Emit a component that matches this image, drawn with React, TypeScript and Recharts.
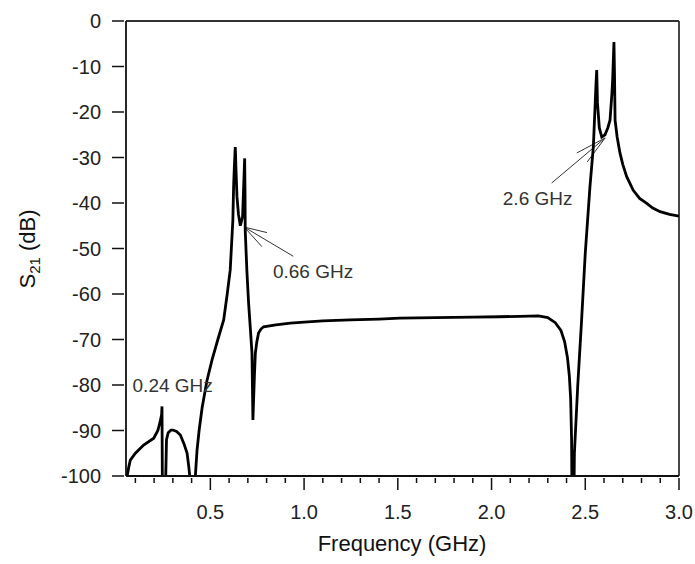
import { LineChart, Line, XAxis, YAxis, ReferenceLine, ReferenceDot } from 'recharts'

// frequency (GHz) and transmission S21 (dB)
const freq = [
  0.056, 0.065, 0.073, 0.1, 0.144, 0.198, 0.22, 0.233, 0.24, 0.242, 0.245, 0.255, 0.262, 0.266,
  0.275, 0.29, 0.3, 0.32, 0.34, 0.36, 0.376, 0.385, 0.39, 0.4, 0.415, 0.42, 0.429, 0.44, 0.456,
  0.482, 0.509, 0.54, 0.571, 0.59, 0.606, 0.62, 0.624, 0.628, 0.633, 0.637, 0.642, 0.65, 0.66,
  0.672, 0.678, 0.683, 0.685, 0.686, 0.695, 0.704, 0.714, 0.722, 0.727, 0.73, 0.735, 0.74,
  0.748, 0.757, 0.77, 0.784, 0.85, 0.926, 1.0, 1.1, 1.246, 1.4, 1.51, 1.7, 1.9, 2.04, 2.15,
  2.25, 2.3, 2.34, 2.37, 2.39, 2.405, 2.415, 2.422, 2.427, 2.43, 2.438, 2.442, 2.46, 2.48, 2.5,
  2.525, 2.543, 2.552, 2.557, 2.561, 2.565, 2.575, 2.588, 2.605, 2.62, 2.632, 2.642, 2.646,
  2.653, 2.656, 2.659, 2.67, 2.685, 2.7, 2.721, 2.756, 2.79, 2.828, 2.86, 2.899, 2.95, 3.0,
]
const s21 = [
  -100, -98, -96.5, -95, -93.2, -91.7, -90, -87.9, -86.5, -84.7, -110, -110, -100, -92,
  -90.5, -89.9, -89.9, -90.2, -91, -93, -95, -98, -100, -108, -108, -100, -94.3, -90, -85,
  -79, -74.5, -70, -65.7, -60, -54.7, -43.8, -36.4, -32, -27.7, -33, -38.6, -42.5, -45,
  -43, -36, -30.2, -38, -46, -55, -62, -68, -73, -87.7, -84, -78, -73,
  -70.5, -68.6, -67.7, -67.2, -66.8, -66.4, -66.2, -65.9, -65.7, -65.5, -65.3, -65.2, -65.1, -65.0, -64.9,
  -64.8, -65.2, -66.3, -68, -70.5, -74, -78, -83, -92, -110, -110, -95, -80, -66, -51,
  -36.4, -27.7, -19, -14, -10.8, -18, -23.5, -25.5, -25.0, -23.5, -21.8, -16, -13,
  -4.6, -12, -21.8, -25.5, -29, -31.5, -34.2, -37.2, -39, -40.1, -41.1, -41.9, -42.5, -42.9,
]

const xTicks = [
  0.1, 0.2, 0.3, 0.4, 0.5, 0.6, 0.7, 0.8, 0.9, 1.0, 1.1, 1.2, 1.3, 1.4, 1.5, 1.6, 1.7, 1.8, 1.9,
  2.0, 2.1, 2.2, 2.3, 2.4, 2.5, 2.6, 2.7, 2.8, 2.9, 3.0,
]
const xLabels = ['0.5', '1.0', '1.5', '2.0', '2.5', '3.0']
const yTicks = [0, -10, -20, -30, -40, -50, -60, -70, -80, -90, -100]

const data = freq.map((f, i) => ({ f, s21: s21[i] }))

const FONT = '"Liberation Sans", Arial, sans-serif'
const INK = '#111'

const XTick = ({ x, y, payload }: any) => {
  const label = xLabels.find((l) => Math.abs(parseFloat(l) - payload.value) < 1e-6)
  return (
    <g>
      <line x1={x} x2={x} y1={y} y2={y + (label ? 12 : 5)} stroke={INK} strokeWidth={1.5} />
      {label && (
        <text x={x} y={y + 41} textAnchor="middle" fontSize={20} fontFamily={FONT} fill="#222">
          {label}
        </text>
      )}
    </g>
  )
}

const YTick = ({ x, y, payload }: any) => (
  <g>
    <line x1={x - 12} x2={x} y1={y} y2={y} stroke={INK} strokeWidth={1.5} />
    <text x={x - 23} y={y + 7} textAnchor="end" fontSize={20} fontFamily={FONT} fill="#222">
      {String(payload.value)}
    </text>
  </g>
)

const note = { fontSize: 19, fontFamily: FONT, fill: '#333' }
const arrow = { stroke: '#333', strokeWidth: 1 }

export default function App() {
  return (
    <div style={{ position: 'absolute', left: 0, top: 0, width: 695, height: 564 }}>
      <LineChart width={695} height={564} data={data} margin={{ top: 21, right: 16, left: 0, bottom: 0 }}>
        <XAxis
          dataKey="f"
          type="number"
          domain={[0.05, 3.0]}
          ticks={xTicks}
          interval={0}
          height={88}
          tickSize={0}
          tick={<XTick />}
          axisLine={{ stroke: INK, strokeWidth: 1.8 }}
          allowDataOverflow
        />
        <YAxis
          type="number"
          domain={[-100, 0]}
          ticks={yTicks}
          interval={0}
          width={126}
          tickSize={0}
          tick={<YTick />}
          axisLine={{ stroke: INK, strokeWidth: 1.8 }}
          allowDataOverflow
        />
        <ReferenceLine y={0} stroke="#333" strokeWidth={1.8} />
        <ReferenceLine x={3.0} stroke="#333" strokeWidth={1.8} />

        <ReferenceLine segment={[{ x: 0.942, y: -51.7 }, { x: 0.681, y: -45.3 }]} {...arrow} />
        <ReferenceLine segment={[{ x: 0.681, y: -45.3 }, { x: 0.802, y: -46.5 }]} {...arrow} />
        <ReferenceLine segment={[{ x: 0.681, y: -45.3 }, { x: 0.775, y: -49.6 }]} {...arrow} />
        <ReferenceLine segment={[{ x: 2.321, y: -35.6 }, { x: 2.606, y: -25.7 }]} {...arrow} />
        <ReferenceLine segment={[{ x: 2.606, y: -25.7 }, { x: 2.455, y: -29 }]} {...arrow} />
        <ReferenceLine segment={[{ x: 2.606, y: -25.7 }, { x: 2.51, y: -31 }]} {...arrow} />

        <Line
          dataKey="s21"
          type="linear"
          stroke="#000"
          strokeWidth={2.8}
          dot={false}
          isAnimationActive={false}
        />

        <ReferenceDot x={0.085} y={-80} r={0} fill="none" stroke="none"
          label={{ value: '0.24 GHz', position: 'right', offset: 0, ...note }} />
        <ReferenceDot x={0.834} y={-55.1} r={0} fill="none" stroke="none"
          label={{ value: '0.66 GHz', position: 'right', offset: 0, ...note }} />
        <ReferenceDot x={2.06} y={-38.9} r={0} fill="none" stroke="none"
          label={{ value: '2.6 GHz', position: 'right', offset: 0, ...note }} />
      </LineChart>

      <div
        style={{
          position: 'absolute', left: 302, top: 531, width: 200, textAlign: 'center',
          fontFamily: FONT, fontSize: 22, lineHeight: '26px', color: INK, whiteSpace: 'nowrap',
        }}
      >
        Frequency (GHz)
      </div>
      <div
        style={{
          position: 'absolute', left: -72, top: 236, width: 200, height: 26, textAlign: 'center',
          fontFamily: FONT, fontSize: 22, lineHeight: '26px', color: INK, whiteSpace: 'nowrap',
          transform: 'rotate(-90deg)', transformOrigin: 'center',
        }}
      >
        S<sub style={{ fontSize: 15, lineHeight: 0 }}>21</sub> (dB)
      </div>
    </div>
  )
}
